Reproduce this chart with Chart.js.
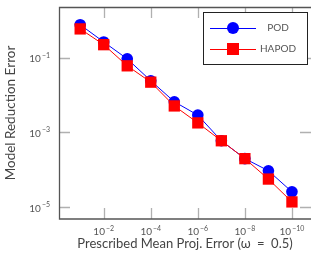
<!DOCTYPE html>
<html>
<head>
<meta charset="utf-8">
<script src="https://cdn.jsdelivr.net/npm/chart.js@4/dist/chart.umd.min.js"></script>
<style>
  body { margin: 0; background: #fff; }
  #wrap { width: 311px; height: 253px; }
</style>
</head>
<body>
<div id="wrap"><canvas id="chart" width="311" height="253"></canvas></div>
<script>
// prescribed mean projection error (x) and resulting errors
const projErr = [1e-1, 1e-2, 1e-3, 1e-4, 1e-5, 1e-6, 1e-7, 1e-8, 1e-9, 1e-10];
const podErr = [0.75, 0.26, 0.092, 0.024, 0.0066, 0.0029, 6.0e-4, 2.0e-4, 9.5e-5, 2.6e-5];
const hapodErr = [0.58, 0.22, 0.060, 0.022, 0.0051, 0.0018, 6.0e-4, 2.0e-4, 5.7e-5, 1.4e-5];

const xTicks = [1e-2, 1e-4, 1e-6, 1e-8, 1e-10];
const yTicks = [1e-1, 1e-3, 1e-5];
const xTickExp = ['−2', '−4', '−6', '−8', '−10'];
const yTickExp = ['−1', '−3', '−5'];

const FONT = 'Lato, "Open Sans", sans-serif';

function pts(ys) {
    return projErr.map((x, i) => ({ x: x, y: ys[i] }));
}

// "10" with a raised exponent
function powLabel(ctx, exp, x, baseline, align) {
    ctx.font = '10px ' + FONT;
    const wb = ctx.measureText('10').width;
    ctx.font = '7px ' + FONT;
    const we = ctx.measureText(exp).width + 1;
    let left = align === 'right' ? x - wb - we : x - (wb + we) / 2;
    ctx.textAlign = 'left';
    ctx.textBaseline = 'alphabetic';
    ctx.font = '10px ' + FONT;
    ctx.fillText('10', left, baseline);
    ctx.font = '7px ' + FONT;
    ctx.fillText(exp, left + wb + 1, baseline - 4.5);
}

// inward ticks on all sides + frame, drawn under the data
const framePlugin = {
    id: 'frame',
    beforeDatasetsDraw(chart) {
        const { ctx, chartArea: a, scales } = chart;
        ctx.save();
        ctx.lineWidth = 1.3;
        ctx.strokeStyle = '#b0b0b0';
        const tl = 11;
        xTicks.forEach(v => {
            const px = Math.round(scales.x.getPixelForValue(v)) + 0.5;
            ctx.beginPath();
            ctx.moveTo(px, a.bottom); ctx.lineTo(px, a.bottom - tl);
            ctx.moveTo(px, a.top); ctx.lineTo(px, a.top + tl);
            ctx.stroke();
        });
        yTicks.forEach(v => {
            const py = Math.round(scales.y.getPixelForValue(v)) + 0.5;
            ctx.beginPath();
            ctx.moveTo(a.left, py); ctx.lineTo(a.left + tl, py);
            ctx.moveTo(a.right, py); ctx.lineTo(a.right - tl, py);
            ctx.stroke();
        });
        ctx.strokeStyle = '#555';
        ctx.lineWidth = 1.3;
        ctx.beginPath();
        ctx.moveTo(a.right, a.top + 0.5);
        ctx.lineTo(a.left + 0.5, a.top + 0.5);
        ctx.lineTo(a.left + 0.5, a.bottom);
        ctx.lineTo(a.right, a.bottom);
        ctx.stroke();

        // tick labels
        ctx.fillStyle = '#555';
        xTicks.forEach((v, i) => {
            powLabel(ctx, xTickExp[i], scales.x.getPixelForValue(v), a.bottom + 16, 'center');
        });
        yTicks.forEach((v, i) => {
            powLabel(ctx, yTickExp[i], a.left - 9, scales.y.getPixelForValue(v) + 4.5, 'right');
        });
        ctx.restore();
    },
    afterDraw(chart) {
        // legend box with line + marker like the original
        const ctx = chart.ctx;
        const ds = chart.data.datasets;
        ctx.save();
        ctx.fillStyle = '#fff';
        ctx.fillRect(203, 12, 105, 53);
        ctx.strokeStyle = '#222';
        ctx.lineWidth = 1;
        ctx.strokeRect(203.5, 12.5, 104, 52);
        const rows = [
            { d: ds[1], y: 28 },
            { d: ds[0], y: 49 }
        ];
        ctx.font = '10px ' + FONT;
        ctx.textAlign = 'center';
        ctx.textBaseline = 'middle';
        rows.forEach(r => {
            ctx.strokeStyle = r.d.borderColor;
            ctx.lineWidth = 1;
            ctx.beginPath();
            ctx.moveTo(210, r.y + 0.5); ctx.lineTo(256, r.y + 0.5);
            ctx.stroke();
            ctx.fillStyle = r.d.backgroundColor;
            if (r.d.pointStyle === 'rect') {
                ctx.fillRect(227, r.y - 6, 12, 12);
            } else {
                ctx.beginPath();
                ctx.arc(233, r.y, 6, 0, Math.PI * 2);
                ctx.fill();
            }
            ctx.fillStyle = '#555';
            ctx.fillText(r.d.label, 278, r.y);
        });
        ctx.restore();
    }
};

new Chart(document.getElementById('chart').getContext('2d'), {
    type: 'line',
    data: {
        datasets: [
            {
                label: 'HAPOD', data: pts(hapodErr),
                borderColor: '#ff0000', backgroundColor: '#ff0000',
                borderWidth: 1, pointStyle: 'rect', pointRadius: 8, pointBorderWidth: 0
            },
            {
                label: 'POD', data: pts(podErr),
                borderColor: '#0000ff', backgroundColor: '#0000ff',
                borderWidth: 1, pointStyle: 'circle', pointRadius: 5.8, pointBorderWidth: 0
            }
        ]
    },
    options: {
        responsive: false,
        devicePixelRatio: 1,
        animation: false,
        layout: { autoPadding: false, padding: { top: 7, right: 0, left: 0, bottom: 0 } },
        plugins: { legend: { display: false }, tooltip: { enabled: false } },
        scales: {
            x: {
                type: 'logarithmic',
                reverse: true,
                min: Math.pow(10, -10.81),
                max: Math.pow(10, -0.10),
                grid: { display: false, drawTicks: false },
                border: { display: false },
                afterBuildTicks: s => { s.ticks = xTicks.map(v => ({ value: v })); },
                afterFit: s => { s.height = 34; },
                ticks: { display: false },
                title: {
                    display: true, text: 'Prescribed Mean Proj. Error (ω\u2002=\u20020.5)',
                    color: '#444', font: { family: FONT, size: 13 },
                    padding: { top: 0, bottom: 1 }
                }
            },
            y: {
                type: 'logarithmic',
                min: Math.pow(10, -5.31),
                max: Math.pow(10, 0.348),
                grid: { display: false, drawTicks: false },
                border: { display: false },
                afterBuildTicks: s => { s.ticks = yTicks.map(v => ({ value: v })); },
                afterFit: s => { s.width = 59; },
                ticks: { display: false },
                title: {
                    display: true, text: 'Model Reduction Error',
                    color: '#444', font: { family: FONT, size: 13.5 },
                    padding: { top: 3, bottom: 0 }
                }
            }
        }
    },
    plugins: [framePlugin]
});
</script>
</body>
</html>
